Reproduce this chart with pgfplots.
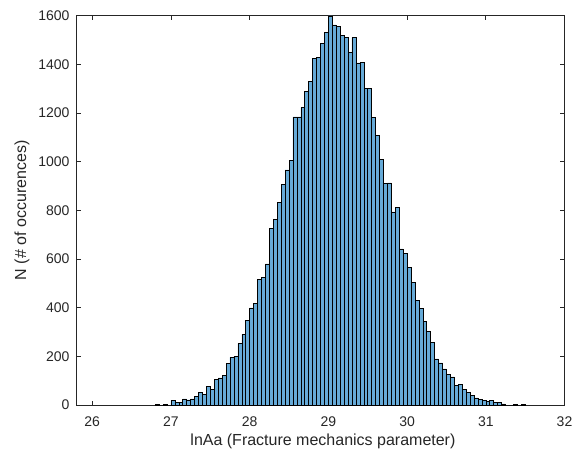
\documentclass[border=0pt]{standalone}
\usepackage{fontspec}
\setmainfont{Liberation Sans}
\usepackage{pgfplots}
\pgfplotsset{compat=1.18}
\usepackage{pgfplotstable}

\definecolor{barfill}{RGB}{102,170,215}
\definecolor{axgray}{RGB}{38,38,38}

% bin start, count (bin width 0.05); last row closes the final interval
\pgfplotstableread{
x n
26.80 2
26.85 0
26.90 2
26.95 0
27.00 18
27.05 10
27.10 10
27.15 25
27.20 21
27.25 25
27.30 37
27.35 51
27.40 44
27.45 77
27.50 64
27.55 106
27.60 111
27.65 122
27.70 171
27.75 196
27.80 201
27.85 252
27.90 290
27.95 347
28.00 399
28.05 418
28.10 517
28.15 525
28.20 580
28.25 726
28.30 763
28.35 833
28.40 908
28.45 966
28.50 1004
28.55 1184
28.60 1184
28.65 1222
28.70 1290
28.75 1329
28.80 1426
28.85 1429
28.90 1485
28.95 1531
29.00 1599
29.05 1562
29.10 1555
29.15 1519
29.20 1510
29.25 1448
29.30 1510
29.35 1406
29.40 1407
29.45 1300
29.50 1300
29.55 1183
29.60 1109
29.65 1008
29.70 911
29.75 913
29.80 794
29.85 812
29.90 642
29.95 623
30.00 566
30.05 503
30.10 429
30.15 397
30.20 345
30.25 304
30.30 258
30.35 190
30.40 173
30.45 148
30.50 126
30.55 116
30.60 81
30.65 85
30.70 65
30.75 51
30.80 40
30.85 29
30.90 23
30.95 18
31.00 14
31.05 18
31.10 12
31.15 12
31.20 5
31.25 0
31.30 0
31.35 2
31.40 0
31.45 2
31.50 0
}\histdata

\begin{document}
\begin{tikzpicture}
\begin{axis}[
    scale only axis,
    width=488bp, height=389.3bp,
    xmin=25.8, xmax=32,
    ymin=0, ymax=1600,
    xtick={26,27,...,32},
    ytick={0,200,...,1600},
    /pgf/number format/assume math mode=true,
    /pgf/number format/1000 sep={},
    axis line style={axgray, line width=0.7bp},
    every tick/.style={axgray, line width=0.7bp},
    major tick length=4.5bp,
    tick align=inside,
    ticklabel style={font=\fontsize{14bp}{16bp}\selectfont, text=axgray},
    xticklabel style={yshift=-8bp},
    yticklabel style={xshift=-3.5bp},
    label style={font=\fontsize{16bp}{18bp}\selectfont, text=axgray},
    xlabel={lnAa (Fracture mechanics parameter)},
    ylabel={N (\# of occurences)},
    xlabel style={at={(axis description cs:0.505,-0.0925)}, anchor=center},
    ylabel style={at={(axis description cs:-0.1117,0.5)}, anchor=center, rotate=0},
]
\addplot[ybar interval, fill=barfill, draw=black, line width=0.55bp]
    table[x=x, y=n] {\histdata};
\end{axis}
\path ([xshift=-76.5bp,yshift=-48bp]current axis.south west)
    rectangle ([xshift=12.5bp,yshift=15.7bp]current axis.north east);
\end{tikzpicture}
\end{document}
